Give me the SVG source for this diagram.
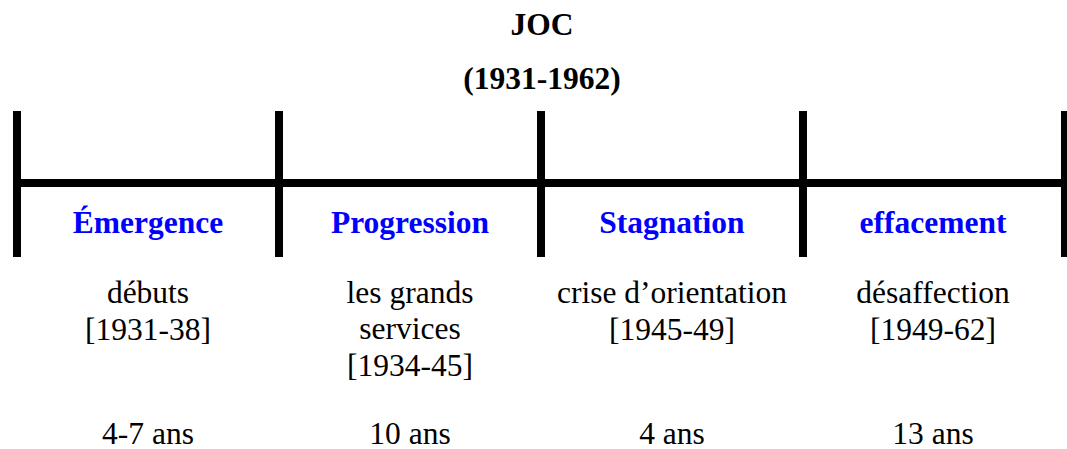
<svg xmlns="http://www.w3.org/2000/svg" width="1067" height="449" viewBox="0 0 1067 449">
  <style>
    text { font-family: 'Liberation Serif', 'Times New Roman', Times, serif; font-size: 31.5px; text-anchor: middle; }
    .t { fill: #000; }
    .b { font-weight: bold; }
    .h { font-weight: bold; fill: #0000FF; }
    .bar { fill: #000; }
  </style>
  <rect width="1067" height="449" fill="#fff"/>
  <g id="title" font-family="Liberation Serif, serif">
    <text class="t b" x="542" y="35">JOC</text>
    <text class="t b" x="542" y="89">(1931-1962)</text>
  </g>
  <g id="connectors">
    <rect class="bar" x="13" y="179" width="1054" height="8"/>
    <rect class="bar" x="13" y="111" width="8" height="146"/>
    <rect class="bar" x="275" y="111" width="8" height="146"/>
    <rect class="bar" x="537" y="111" width="8" height="146"/>
    <rect class="bar" x="799" y="111" width="8" height="146"/>
    <rect class="bar" x="1061" y="111" width="8" height="146"/>
  </g>
  <g id="node-emergence">
    <text class="h" x="148" y="233">Émergence</text>
    <text class="t" x="148" y="303">débuts</text>
    <text class="t" x="148" y="340">[1931-38]</text>
    <text class="t" x="148" y="444">4-7 ans</text>
  </g>
  <g id="node-progression">
    <text class="h" x="410" y="233">Progression</text>
    <text class="t" x="410" y="303">les grands</text>
    <text class="t" x="410" y="339">services</text>
    <text class="t" x="410" y="376">[1934-45]</text>
    <text class="t" x="410" y="444">10 ans</text>
  </g>
  <g id="node-stagnation">
    <text class="h" x="672" y="233">Stagnation</text>
    <text class="t" x="672" y="303">crise d’orientation</text>
    <text class="t" x="672" y="340">[1945-49]</text>
    <text class="t" x="672" y="444">4 ans</text>
  </g>
  <g id="node-effacement">
    <text class="h" x="933" y="233">effacement</text>
    <text class="t" x="933" y="303">désaffection</text>
    <text class="t" x="933" y="340">[1949-62]</text>
    <text class="t" x="933" y="444">13 ans</text>
  </g>
</svg>
